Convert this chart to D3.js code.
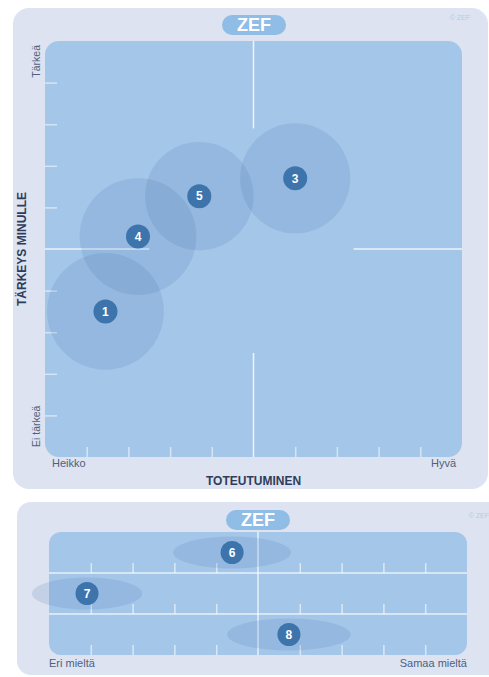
<!DOCTYPE html>
<html>
<head>
    <meta charset="UTF-8" />
    <title>ZEF</title>
    <script src="https://d3js.org/d3.v7.min.js"></script>
    <style>
      body { margin: 0; background: #fff; }
      svg { display: block; font-family: "Liberation Sans", Arial, sans-serif; }
    </style>
</head>
<body>
<div id="main"></div>
<script type="text/javascript">

// top chart: bubbles (toteutuminen vs tärkeys)
const bubbleNames = ["1", "4", "5", "3"]
const bubbleX = [1.45, 2.23, 3.7, 6.0]
const bubbleY = [3.5, 5.3, 6.27, 6.7]
const bubbleR = [1.4, 1.4, 1.3, 1.32]

// bottom chart: agreement rows
const rowNames = ["6", "7", "8"]
const rowX = [4.38, 0.91, 5.74]
const rowSpread = [1.41, 1.32, 1.48]

const tickValues = [1, 2, 3, 4, 6, 7, 8, 9]

const W = 489, H = 677
const panelFill = "#dde3f0"
const plotFill = "#a4c6e8"
const pillFill = "#8fbde6"
const markFill = "#3d74ab"
const textDark = "#2f3d5c"
const textSoft = "#4f5f80"

const svg = d3.select("#main").append("svg")
  .attr("width", W)
  .attr("height", H)

// ---------- top panel ----------
svg.append("rect")
  .attr("x", 13).attr("y", 8)
  .attr("width", 475).attr("height", 481)
  .attr("rx", 16)
  .attr("fill", panelFill)

const x = d3.scaleLinear().domain([0, 10]).range([45, 462])
const y = d3.scaleLinear().domain([0, 10]).range([457, 41])

svg.append("rect")
  .attr("x", x(0)).attr("y", y(10))
  .attr("width", x(10) - x(0)).attr("height", y(0) - y(10))
  .attr("rx", 14)
  .attr("fill", plotFill)

// ticks
svg.append("g")
  .attr("transform", `translate(${x(0)},0)`)
  .call(d3.axisRight(y).tickValues(tickValues).tickSize(12).tickFormat(""))
  .call(g => g.select(".domain").remove())
  .call(g => g.selectAll("line").attr("stroke", "#fff").attr("stroke-opacity", 0.55).attr("stroke-width", 1.5))

svg.append("g")
  .attr("transform", `translate(0,${y(0)})`)
  .call(d3.axisTop(x).tickValues(tickValues).tickSize(10).tickFormat(""))
  .call(g => g.select(".domain").remove())
  .call(g => g.selectAll("line").attr("stroke", "#fff").attr("stroke-opacity", 0.55).attr("stroke-width", 1.5))

// crosshair (drawn with an open middle)
const cross = svg.append("g").attr("stroke", "#fff").attr("stroke-opacity", 0.8).attr("stroke-width", 1.5)
cross.append("line").attr("x1", x(5)).attr("x2", x(5)).attr("y1", y(10)).attr("y2", y(7.9))
cross.append("line").attr("x1", x(5)).attr("x2", x(5)).attr("y1", y(2.5)).attr("y2", y(0))
cross.append("line").attr("x1", x(0)).attr("x2", x(2.5)).attr("y1", y(5)).attr("y2", y(5))
cross.append("line").attr("x1", x(7.4)).attr("x2", x(10)).attr("y1", y(5)).attr("y2", y(5))

const bubbles = bubbleNames.map((n, i) => ({ name: n, x: bubbleX[i], y: bubbleY[i], r: bubbleR[i] }))

svg.append("g").selectAll("circle").data(bubbles).enter().append("circle")
  .attr("cx", d => x(d.x))
  .attr("cy", d => y(d.y))
  .attr("r", d => x(d.r) - x(0))
  .attr("fill", "#4678b4")
  .attr("fill-opacity", 0.17)

const marks = svg.append("g").selectAll("g").data(bubbles).enter().append("g")
  .attr("transform", d => `translate(${x(d.x)},${y(d.y)})`)
marks.append("circle").attr("r", 12).attr("fill", markFill)
marks.append("text")
  .attr("text-anchor", "middle").attr("dy", "0.36em")
  .attr("fill", "#fff").attr("font-size", 12).attr("font-weight", "bold")
  .text(d => d.name)

// labels
function pill(cx, cy) {
  svg.append("rect")
    .attr("x", cx - 32).attr("y", cy - 10)
    .attr("width", 64).attr("height", 20).attr("rx", 10)
    .attr("fill", pillFill)
  svg.append("text")
    .attr("x", cx).attr("y", cy).attr("dy", "0.36em")
    .attr("text-anchor", "middle")
    .attr("fill", "#fff").attr("font-size", 18).attr("font-weight", "bold")
    .text("ZEF")
}
pill(254, 25)

svg.append("text").attr("x", 470).attr("y", 20).attr("text-anchor", "end")
  .attr("fill", "#b6cbe6").attr("font-size", 7).text("© ZEF")

svg.append("text")
  .attr("transform", `translate(40,45) rotate(-90)`)
  .attr("text-anchor", "end").attr("fill", textSoft).attr("font-size", 10.5)
  .text("Tärkeä")
svg.append("text")
  .attr("transform", `translate(40,447) rotate(-90)`)
  .attr("text-anchor", "start").attr("fill", textSoft).attr("font-size", 10.5)
  .text("Ei tärkeä")
svg.append("text")
  .attr("transform", `translate(26,${y(5)}) rotate(-90)`)
  .attr("text-anchor", "middle").attr("fill", textDark)
  .attr("font-size", 12).attr("font-weight", "bold")
  .text("TÄRKEYS MINULLE")

svg.append("text").attr("x", 52).attr("y", 467)
  .attr("fill", textSoft).attr("font-size", 11).text("Heikko")
svg.append("text").attr("x", 456).attr("y", 467).attr("text-anchor", "end")
  .attr("fill", textSoft).attr("font-size", 11).text("Hyvä")
svg.append("text").attr("x", x(5)).attr("y", 485).attr("text-anchor", "middle")
  .attr("fill", textDark).attr("font-size", 12).attr("font-weight", "bold")
  .text("TOTEUTUMINEN")

// ---------- bottom panel ----------
svg.append("rect")
  .attr("x", 17).attr("y", 502)
  .attr("width", 490).attr("height", 173)
  .attr("rx", 14)
  .attr("fill", panelFill)

const xb = d3.scaleLinear().domain([0, 10]).range([49, 467])
const row = d3.scaleBand().domain(rowNames).range([532, 655])

svg.append("rect")
  .attr("x", xb(0)).attr("y", 532)
  .attr("width", xb(10) - xb(0)).attr("height", 123)
  .attr("rx", 12)
  .attr("fill", plotFill)

rowNames.forEach(r => {
  svg.append("g")
    .attr("transform", `translate(0,${row(r) + row.bandwidth()})`)
    .call(d3.axisTop(xb).tickValues(tickValues).tickSize(10).tickFormat(""))
    .call(g => g.select(".domain").remove())
    .call(g => g.selectAll("line").attr("stroke", "#fff").attr("stroke-opacity", 0.6).attr("stroke-width", 1.5))
})

const grid = svg.append("g").attr("stroke", "#fff").attr("stroke-opacity", 0.75).attr("stroke-width", 1.5)
rowNames.slice(0, 2).forEach(r => {
  grid.append("line")
    .attr("x1", xb(0)).attr("x2", xb(10))
    .attr("y1", row(r) + row.bandwidth()).attr("y2", row(r) + row.bandwidth())
})
grid.append("line").attr("x1", xb(5)).attr("x2", xb(5)).attr("y1", 532).attr("y2", 655)

const rows = rowNames.map((n, i) => ({ name: n, x: rowX[i], s: rowSpread[i] }))

svg.append("g").selectAll("ellipse").data(rows).enter().append("ellipse")
  .attr("cx", d => xb(d.x))
  .attr("cy", d => row(d.name) + row.bandwidth() / 2)
  .attr("rx", d => xb(d.s) - xb(0))
  .attr("ry", 16)
  .attr("fill", "#4678b4")
  .attr("fill-opacity", 0.17)

const rmarks = svg.append("g").selectAll("g").data(rows).enter().append("g")
  .attr("transform", d => `translate(${xb(d.x)},${row(d.name) + row.bandwidth() / 2})`)
rmarks.append("circle").attr("r", 11.5).attr("fill", markFill)
rmarks.append("text")
  .attr("text-anchor", "middle").attr("dy", "0.36em")
  .attr("fill", "#fff").attr("font-size", 12).attr("font-weight", "bold")
  .text(d => d.name)

pill(258, 520)
svg.append("text").attr("x", 489).attr("y", 518).attr("text-anchor", "end")
  .attr("fill", "#b6cbe6").attr("font-size", 7).text("© ZEF")

svg.append("text").attr("x", 49).attr("y", 667)
  .attr("fill", textSoft).attr("font-size", 11).text("Eri mieltä")
svg.append("text").attr("x", 467).attr("y", 667).attr("text-anchor", "end")
  .attr("fill", textSoft).attr("font-size", 11).text("Samaa mieltä")

</script>
</body>
</html>
